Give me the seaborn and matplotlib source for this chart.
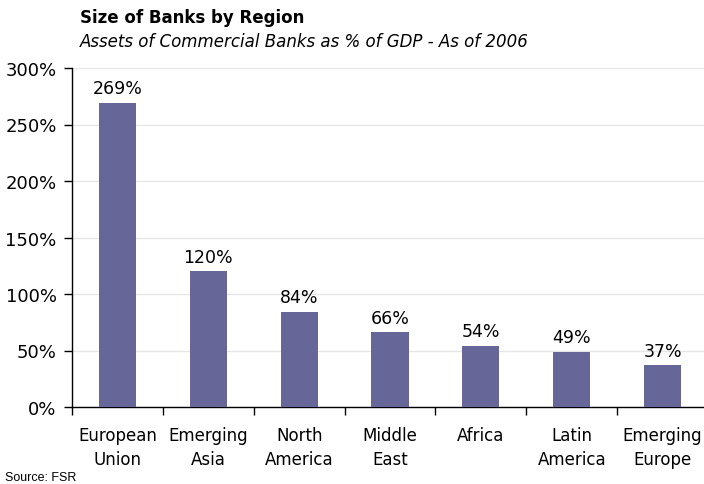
import matplotlib
matplotlib.use("Agg")
import matplotlib.pyplot as plt
import seaborn as sns
import pandas as pd
from matplotlib.ticker import FuncFormatter, FixedLocator

regions = ["European\nUnion", "Emerging\nAsia", "North\nAmerica", "Middle\nEast",
           "Africa", "Latin\nAmerica", "Emerging\nEurope"]
assets_pct_gdp = [269, 120, 84, 66, 54, 49, 37]
y_ticks = [0, 50, 100, 150, 200, 250, 300]

df = pd.DataFrame({"region": regions, "assets": assets_pct_gdp})

sns.set_theme(style="white")
plt.rcParams["font.family"] = ["DejaVu Sans"]
plt.rcParams["text.color"] = "black"
plt.rcParams["xtick.color"] = "black"
plt.rcParams["ytick.color"] = "black"

fig = plt.figure(figsize=(7.04, 4.85), dpi=100)
ax = fig.add_axes([72 / 704, 1 - 408 / 485, (708 - 72) / 704, (408 - 69) / 485])

sns.barplot(data=df, x="region", y="assets", color="#666699", saturation=1,
            width=0.41, linewidth=0, ax=ax, zorder=3)

ax.set_ylim(0, 300)
ax.set_xlim(-0.5, len(regions) - 0.5)
ax.yaxis.set_major_locator(FixedLocator(y_ticks))
ax.yaxis.set_major_formatter(FuncFormatter(lambda v, _: f"{v:.0f}%"))
ax.grid(axis="y", color="#e6e6e6", linewidth=1, zorder=0)
ax.set_axisbelow(True)

for s in ["top", "right"]:
    ax.spines[s].set_visible(False)
for s in ["left", "bottom"]:
    ax.spines[s].set_color("black")
    ax.spines[s].set_linewidth(1)

ax.tick_params(axis="y", which="major", direction="out", length=6, width=1,
               color="black", labelsize=13, pad=5, left=True, labelcolor="black")
# category labels without ticks, boundary ticks between categories
ax.tick_params(axis="x", which="major", length=0, labelsize=12, pad=14,
               labelcolor="black")
ax.set_xticks(range(len(regions)))
ax.set_xticklabels(regions, linespacing=1.4)
ax.set_xticks([i + 0.5 for i in range(-1, len(regions))], minor=True)
ax.tick_params(axis="x", which="minor", direction="out", length=6, width=1,
               color="black", bottom=True)
ax.set_xlabel("")
ax.set_ylabel("")

for i, v in enumerate(assets_pct_gdp):
    ax.text(i, v + 5, f"{v}%", ha="center", va="bottom", fontsize=12.5,
            color="black")

fig.text(80 / 704, 1 - 18 / 485, "Size of Banks by Region", fontsize=12,
         fontweight="bold", ha="left", va="center", color="black")
fig.text(80 / 704, 1 - 42 / 485, "Assets of Commercial Banks as % of GDP - As of 2006",
         fontsize=12, style="italic", ha="left", va="center", color="black")
fig.text(5 / 704, 1 - 478 / 485, "Source: FSR", fontsize=9,
         family=["Liberation Sans"], ha="left", va="center", color="black")

fig.savefig("out.png", dpi=100)
